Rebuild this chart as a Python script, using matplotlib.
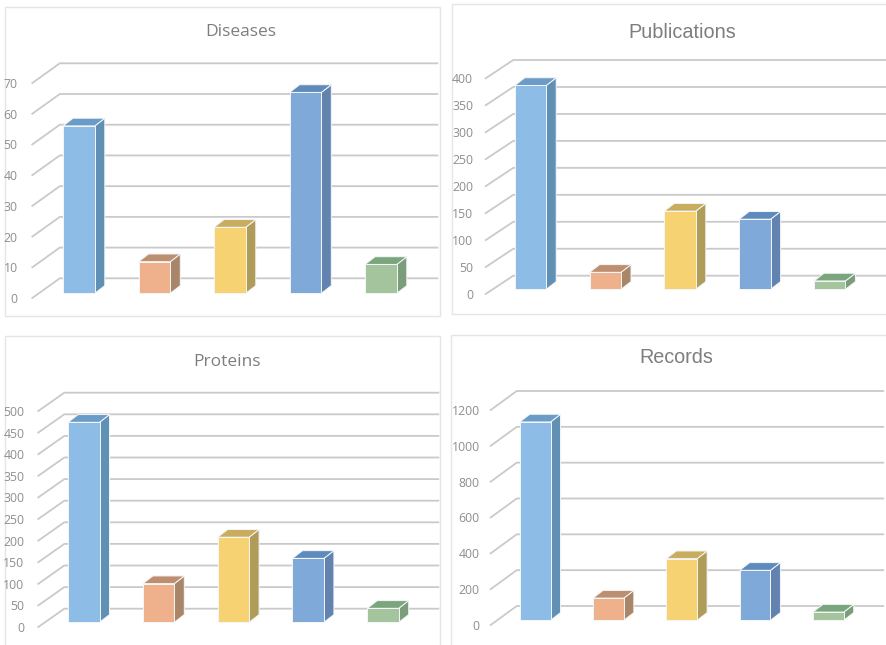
import matplotlib
matplotlib.use("Agg")
import matplotlib.pyplot as plt
from matplotlib.lines import Line2D
from matplotlib.patches import Polygon, Rectangle
from matplotlib.transforms import IdentityTransform

W, H = 886, 645

# Series values, one list per panel
diseases = [54.5, 10.3, 21.5, 65.4, 9.4]
publications = [378, 31.5, 145, 130, 15.5]
proteins = [463, 89.5, 197, 148, 32.4]
records = [1107, 124, 344, 279, 46]

# Value-axis ticks
diseases_ticks = [0, 10, 20, 30, 40, 50, 60, 70]
publications_ticks = [0, 50, 100, 150, 200, 250, 300, 350, 400]
proteins_ticks = [0, 50, 100, 150, 200, 250, 300, 350, 400, 450, 500]
records_ticks = [0, 200, 400, 600, 800, 1000, 1200]

# Face, side and roof shades for the five categories
face_colors = ["#8DBCE7", "#EEB18C", "#F7D273", "#7FA9D9", "#A3C49C"]
side_colors = ["#6190B5", "#A98569", "#B09C59", "#6282AF", "#7B9D79"]
roof_colors = ["#6B9BC7", "#BE8E70", "#C9AC5E", "#5F8BBC", "#7BA57C"]

# Panel geometry in pixels from the top-left corner of the figure
panels = [
    dict(title="Diseases", values=diseases, ticks=diseases_ticks, font="Open Sans", size=12.5,
         frame=(5, 7, 440, 316), front_x=32.3, zero_y=298, back_x=59.8, back_zero=278.3,
         back_top=63.3, spacing=75.5, title_xy=(240.5, 32), bar_ox=8.9, pad=10.5),
    dict(title="Publications", values=publications, ticks=publications_ticks, font="Liberation Sans", size=14.3,
         frame=(452, 4, 892, 314), front_x=485.7, zero_y=294, back_x=513.3, back_zero=275.7,
         back_top=60, spacing=74.8, title_xy=(682.5, 32), bar_ox=7.4, pad=9),
    dict(title="Proteins", values=proteins, ticks=proteins_ticks, font="Open Sans", size=12.5,
         frame=(5, 336, 440, 650), front_x=38.3, zero_y=627, back_x=64.3, back_zero=608.7,
         back_top=392.7, spacing=74.8, title_xy=(226.7, 361.5), bar_ox=8.1, pad=10),
    dict(title="Records", values=records, ticks=records_ticks, font="Liberation Sans", size=14.2,
         frame=(451, 335, 892, 650), front_x=490.7, zero_y=625, back_x=516.7, back_zero=606,
         back_top=391, spacing=73.3, title_xy=(676.7, 357.5), bar_ox=7.8, pad=8),
]

BAR_WIDTH = 0.42       # share of the category band
BAR_RISE = 4.7         # bar base sits this far above the front plane, pixels
BAR_DEPTH = (10, 7.7)  # extent of each bar into the chart, pixels

fig = plt.figure(figsize=(W / 100, H / 100), dpi=100, facecolor="white")


def draw_panel(p):
    x0, y0, x1, y1 = p["frame"]
    # Card outline sits underneath the axes
    fig.add_artist(Rectangle((x0, H - y1), x1 - x0, y1 - y0, transform=IdentityTransform(),
                             facecolor="white", edgecolor="#E6E5E5", linewidth=1.0, zorder=-1))

    ticks = p["ticks"]
    n = len(p["values"])
    plot_h = p["back_zero"] - p["back_top"]
    ax = fig.add_axes([p["front_x"] / W, (H - p["zero_y"]) / H,
                       n * p["spacing"] / W, plot_h / H])
    ax.set_xlim(-0.5, n - 0.5)
    ax.set_ylim(ticks[0], ticks[-1])
    ax.patch.set_visible(False)
    for spine in ax.spines.values():
        spine.set_visible(False)
    ax.set_xticks([])
    ax.set_yticks(ticks)
    ax.tick_params(axis="y", length=0, pad=p["pad"], labelsize=8.8, labelcolor="#8F8E8E")
    for label in ax.get_yticklabels():
        label.set_family("Open Sans")

    depth = (p["back_x"] - p["front_x"], p["zero_y"] - p["back_zero"])

    def point(x, y, ox=0.0, oy=0.0):
        # Data position shifted into the chart depth, in display pixels
        px, py = ax.transData.transform((x, y))
        return (px + ox, py + oy)

    identity = IdentityTransform()

    # Floor-to-wall guide and wall gridline for every tick
    for t in ticks:
        pts = [point(-0.5, t), point(-0.5, t, *depth), point(n - 0.5, t, *depth)]
        ax.add_line(Line2D([q[0] for q in pts], [q[1] for q in pts], transform=identity,
                           color="#CBC9C9", linewidth=1.3, clip_on=False, zorder=1,
                           solid_joinstyle="miter"))

    # Box-shaped bars: front face, right side and roof
    ox, oy = p["bar_ox"], BAR_RISE
    dx, dy = BAR_DEPTH
    halo = "#F4F6F8"
    for i, v in enumerate(p["values"]):
        left, right = i - BAR_WIDTH / 2, i + BAR_WIDTH / 2
        side = [point(right, 0, ox, oy), point(right, v, ox, oy),
                point(right, v, ox + dx, oy + dy), point(right, 0, ox + dx, oy + dy)]
        roof = [point(left, v, ox, oy), point(right, v, ox, oy),
                point(right, v, ox + dx, oy + dy), point(left, v, ox + dx, oy + dy)]
        face = [point(left, 0, ox, oy), point(right, 0, ox, oy),
                point(right, v, ox, oy), point(left, v, ox, oy)]
        for verts, color, order in ((side, side_colors[i], 3), (roof, roof_colors[i], 3),
                                    (face, face_colors[i], 4)):
            ax.add_patch(Polygon(verts, closed=True, transform=identity, facecolor=color,
                                 edgecolor=halo, linewidth=0.7, clip_on=False, zorder=order,
                                 joinstyle="round"))

    tx, ty = p["title_xy"]
    fig.text(tx / W, 1 - ty / H, p["title"], ha="center", va="center",
             family=p["font"], fontsize=p["size"], color="#7F7D7D")


for panel in panels:
    draw_panel(panel)

fig.savefig("out.png", dpi=100, facecolor="white")
